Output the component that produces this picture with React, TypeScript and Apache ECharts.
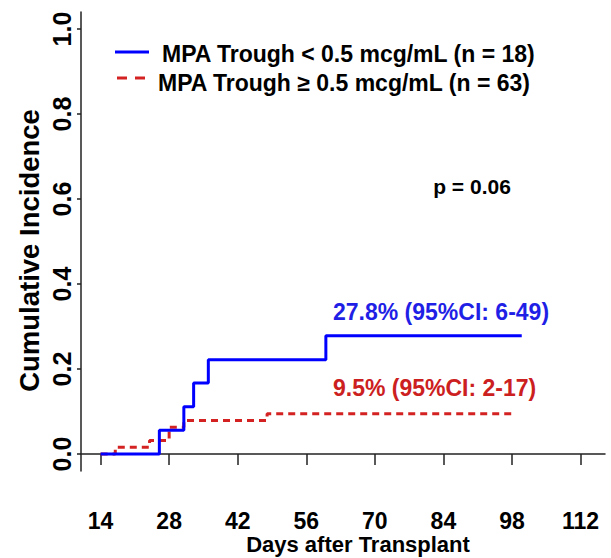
import React, { useEffect, useRef } from "react";
import * as echarts from "echarts";

const lowTroughName = "MPA Trough < 0.5 mcg/mL (n = 18)";
const highTroughName = "MPA Trough \u2265 0.5 mcg/mL (n = 63)";

const lowTroughDays = [14, 26, 31, 33, 36, 60, 100];
const lowTroughCI = [0, 0.056, 0.111, 0.167, 0.222, 0.278, 0.278];

const highTroughDays = [14, 17, 24, 28, 31, 48, 98];
const highTroughCI = [0, 0.016, 0.032, 0.063, 0.079, 0.095, 0.095];

const xTicks = [14, 28, 42, 56, 70, 84, 98, 112];
const yTicks = [0, 0.2, 0.4, 0.6, 0.8, 1.0];

const lowLabel = "27.8% (95%CI: 6-49)";
const highLabel = "9.5% (95%CI: 2-17)";
const pLabel = "p = 0.06";

const BLUE = "#0000ff";
const BLUE_TEXT = "#1f1fe6";
const RED = "#d42222";
const RED_TEXT = "#cc2020";
const FONT = "'Liberation Sans', Arial, Helvetica, sans-serif";
const AXIS = "#222";

export default function App() {
  const ref = useRef<HTMLDivElement>(null);
  useEffect(() => {
    if (!ref.current) return;
    const chart = echarts.init(ref.current, undefined, { renderer: "svg" });
    const lowData = lowTroughDays.map((d, i) => [d, lowTroughCI[i]]);
    const highData = highTroughDays.map((d, i) => [d, highTroughCI[i]]);
    chart.setOption({
      animation: false,
      backgroundColor: "#ffffff",
      textStyle: { fontFamily: FONT },
      grid: {
        left: 81,
        right: 6,
        top: 12,
        bottom: 87,
        containLabel: false,
        outerBoundsMode: "none",
      },
      xAxis: {
        type: "value",
        min: 10,
        max: 117,
        name: "Days after Transplant",
        nameLocation: "middle",
        nameGap: 62,
        nameMoveOverlap: false,
        nameTextStyle: {
          fontFamily: FONT,
          fontWeight: "bold",
          fontSize: 22,
          lineHeight: 22,
          color: "#000",
          padding: [0, 0, 0, 30],
        },
        axisLine: { show: true, lineStyle: { color: AXIS, width: 1.5 } },
        axisTick: {
          show: true,
          length: 11,
          customValues: xTicks,
          lineStyle: { color: AXIS, width: 1.5 },
        },
        axisLabel: {
          customValues: xTicks,
          margin: 39,
          fontFamily: FONT,
          fontWeight: "bold",
          fontSize: 23,
          lineHeight: 22,
          color: "#000",
        },
        splitLine: { show: false },
      },
      yAxis: {
        type: "value",
        min: -0.04,
        max: 1.04,
        name: "Cumulative Incidence",
        nameLocation: "middle",
        nameGap: 38,
        nameMoveOverlap: false,
        nameTextStyle: {
          fontFamily: FONT,
          fontWeight: "bold",
          fontSize: 27.5,
          color: "#000",
          padding: [0, 18, 0, 0],
        },
        axisLine: { show: true, lineStyle: { color: AXIS, width: 1.5 } },
        axisTick: {
          show: true,
          length: 4,
          customValues: yTicks,
          lineStyle: { color: AXIS, width: 1.5 },
        },
        axisLabel: {
          customValues: yTicks,
          rotate: 90,
          margin: 7,
          formatter: (v: number) => v.toFixed(1),
          fontFamily: FONT,
          fontWeight: "bold",
          fontSize: 25,
          color: "#000",
        },
        splitLine: { show: false },
      },
      series: [
        {
          name: highTroughName,
          type: "line",
          step: "end",
          data: highData,
          symbol: "none",
          z: 2,
          lineStyle: { color: RED, width: 3, type: [7, 5] },
          itemStyle: { color: RED },
        },
        {
          name: lowTroughName,
          type: "line",
          step: "end",
          data: lowData,
          symbol: "none",
          z: 3,
          lineStyle: { color: BLUE, width: 3 },
          itemStyle: { color: BLUE },
        },
      ],
      graphic: [
        {
          type: "line",
          shape: { x1: 115, y1: 52, x2: 149, y2: 52 },
          style: { stroke: BLUE, lineWidth: 3 },
        },
        {
          type: "text",
          x: 162,
          y: 54,
          style: {
            text: lowTroughName,
            textAlign: "left",
            textVerticalAlign: "middle",
            fill: "#000",
            font: `bold 23px ${FONT}`,
          },
        },
        {
          type: "line",
          shape: { x1: 117, y1: 78, x2: 146, y2: 78 },
          style: { stroke: RED, lineWidth: 3, lineDash: [10, 8] },
        },
        {
          type: "text",
          x: 158,
          y: 83,
          style: {
            text: highTroughName,
            textAlign: "left",
            textVerticalAlign: "middle",
            fill: "#000",
            font: `bold 23px ${FONT}`,
          },
        },
        {
          type: "text",
          x: 472,
          y: 186,
          style: {
            text: pLabel,
            textAlign: "center",
            textVerticalAlign: "middle",
            fill: "#000",
            font: `bold 21px ${FONT}`,
          },
        },
        {
          type: "text",
          x: 333,
          y: 312,
          style: {
            text: lowLabel,
            textAlign: "left",
            textVerticalAlign: "middle",
            fill: BLUE_TEXT,
            font: `bold 23px ${FONT}`,
          },
        },
        {
          type: "text",
          x: 333,
          y: 388,
          style: {
            text: highLabel,
            textAlign: "left",
            textVerticalAlign: "middle",
            fill: RED_TEXT,
            font: `bold 23px ${FONT}`,
          },
        },
      ],
    });
    return () => chart.dispose();
  }, []);
  return (
    <div
      ref={ref}
      style={{ position: "absolute", left: 0, top: 0, width: 611, height: 558 }}
    />
  );
}
